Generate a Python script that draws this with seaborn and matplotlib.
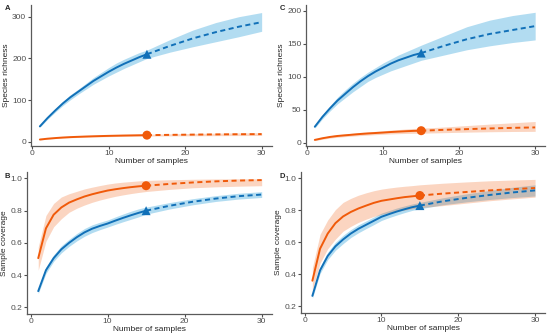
import numpy as np
import pandas as pd
import matplotlib
matplotlib.use("Agg")
import matplotlib.pyplot as plt
import seaborn as sns

# sample sizes: 1..15 observed (rarefaction), 15..30 extrapolated
samples = [1, 2, 3, 4, 5, 6, 7, 8, 9, 10, 11, 12, 13, 14, 15, 18, 21, 24, 27, 30]
ref_size = 15

# A: species richness, first site
a_blue = [37, 57, 75, 92, 107, 120, 133, 146, 157, 168, 178, 187, 195, 203, 210, 230, 248, 263, 276, 287]
a_blue_lo = [35, 54, 71, 87, 101, 114, 126, 138, 148, 158, 167, 176, 184, 192, 200, 215, 228, 240, 252, 265]
a_blue_hi = [39, 60, 79, 97, 113, 126, 140, 154, 166, 178, 189, 198, 206, 214, 220, 245, 268, 286, 300, 310]
a_orange = [5.5, 7.5, 9, 10.3, 11.3, 12, 12.7, 13.3, 13.8, 14.3, 14.7, 15.1, 15.4, 15.7, 16, 16.7, 17.3, 17.8, 18.2, 18.5]
a_orange_lo = [4.5, 6.5, 7.8, 9, 9.8, 10.5, 11.1, 11.6, 12, 12.4, 12.8, 13.1, 13.4, 13.6, 13.8, 14.2, 14.5, 14.8, 15, 15.2]
a_orange_hi = [6.5, 8.5, 10.2, 11.6, 12.8, 13.5, 14.3, 15, 15.6, 16.2, 16.6, 17.1, 17.4, 17.8, 18.2, 19.2, 20.1, 20.8, 21.4, 21.8]

# C: species richness, second site
c_blue = [24, 39, 52, 64, 74, 84, 93, 101, 108, 114, 120, 125, 129, 133, 136, 147, 157, 165, 171, 177]
c_blue_lo = [22, 36, 48, 59, 68, 77, 85, 93, 99, 104, 109, 113, 117, 121, 125, 133, 141, 147, 152, 156]
c_blue_hi = [26, 42, 56, 69, 80, 90, 99, 107, 114, 121, 127, 133, 138, 143, 148, 162, 176, 186, 193, 198]
c_orange = [4, 6.5, 8.5, 10, 11, 12, 13, 13.8, 14.5, 15.2, 16, 16.6, 17.2, 17.7, 18, 19.3, 20.4, 21.4, 22.3, 23]
c_orange_lo = [3, 5, 6.8, 8, 9, 9.8, 10.6, 11.3, 12, 12.6, 13.1, 13.5, 13.8, 14, 14.2, 15, 15.8, 16.4, 16.8, 17]
c_orange_hi = [5, 8, 10.2, 12, 13, 14.2, 15.4, 16.3, 17, 17.8, 18.9, 19.7, 20.6, 21.4, 21.8, 23.6, 25.8, 28, 30, 32]

# B: sample coverage, first site
b_blue = [0.30, 0.43, 0.505, 0.56, 0.60, 0.635, 0.665, 0.688, 0.705, 0.72, 0.738, 0.755, 0.771, 0.786, 0.80, 0.83, 0.855, 0.875, 0.89, 0.90]
b_blue_lo = [0.285, 0.41, 0.485, 0.538, 0.578, 0.612, 0.641, 0.664, 0.682, 0.698, 0.715, 0.731, 0.746, 0.761, 0.778, 0.81, 0.836, 0.857, 0.872, 0.882]
b_blue_hi = [0.315, 0.45, 0.525, 0.582, 0.622, 0.658, 0.689, 0.712, 0.728, 0.742, 0.761, 0.779, 0.796, 0.811, 0.822, 0.85, 0.874, 0.893, 0.908, 0.918]
b_orange = [0.505, 0.69, 0.775, 0.82, 0.85, 0.87, 0.888, 0.902, 0.914, 0.925, 0.933, 0.94, 0.946, 0.951, 0.955, 0.966, 0.975, 0.982, 0.987, 0.99]
b_orange_lo = [0.43, 0.61, 0.70, 0.75, 0.79, 0.815, 0.835, 0.852, 0.866, 0.878, 0.889, 0.898, 0.906, 0.913, 0.919, 0.932, 0.942, 0.948, 0.952, 0.955]
b_orange_hi = [0.575, 0.77, 0.845, 0.885, 0.905, 0.92, 0.935, 0.946, 0.956, 0.965, 0.972, 0.977, 0.981, 0.985, 0.988, 0.992, 0.995, 0.997, 0.998, 0.998]

# D: sample coverage, second site
d_blue = [0.265, 0.425, 0.515, 0.575, 0.618, 0.655, 0.685, 0.71, 0.735, 0.76, 0.777, 0.793, 0.807, 0.82, 0.83, 0.857, 0.878, 0.896, 0.912, 0.925]
d_blue_lo = [0.25, 0.405, 0.492, 0.55, 0.592, 0.63, 0.66, 0.686, 0.711, 0.737, 0.755, 0.771, 0.786, 0.8, 0.81, 0.835, 0.853, 0.868, 0.88, 0.89]
d_blue_hi = [0.28, 0.445, 0.538, 0.6, 0.644, 0.68, 0.71, 0.734, 0.759, 0.783, 0.799, 0.815, 0.828, 0.84, 0.85, 0.879, 0.903, 0.924, 0.944, 0.96]
d_orange = [0.36, 0.56, 0.655, 0.72, 0.762, 0.79, 0.812, 0.83, 0.847, 0.86, 0.868, 0.876, 0.883, 0.888, 0.893, 0.905, 0.915, 0.925, 0.933, 0.94]
d_orange_lo = [0.30, 0.47, 0.56, 0.62, 0.67, 0.70, 0.725, 0.745, 0.762, 0.775, 0.785, 0.794, 0.802, 0.81, 0.817, 0.83, 0.845, 0.86, 0.872, 0.883]
d_orange_hi = [0.44, 0.65, 0.74, 0.805, 0.85, 0.875, 0.895, 0.91, 0.923, 0.933, 0.94, 0.946, 0.951, 0.955, 0.96, 0.97, 0.978, 0.985, 0.99, 0.994]

BLUE = "#1170b8"
ORANGE = "#f05a0a"
BLUE_FILL = "#3fa9dd"

sns.set_theme(style="ticks")
plt.rcParams["font.family"] = ["Liberation Sans", "DejaVu Sans"]


def build_frame(blue, orange):
    rows = []
    for name, vals in (("blue", blue), ("orange", orange)):
        for x, y in zip(samples, vals):
            if x <= ref_size:
                rows.append((x, y, name, "Rarefaction"))
            if x >= ref_size:
                rows.append((x, y, name, "Extrapolation"))
    return pd.DataFrame(rows, columns=["samples", "value", "site", "method"])


def draw_panel(ax, blue, blue_lo, blue_hi, orange, orange_lo, orange_hi,
               ylim, yticks, yticklabels, ylabel, xlim):
    ax.fill_between(samples, blue_lo, blue_hi, color=BLUE_FILL, alpha=0.4, lw=0)
    ax.fill_between(samples, orange_lo, orange_hi, color=ORANGE, alpha=0.25, lw=0)
    df = build_frame(blue, orange)
    sns.lineplot(data=df, x="samples", y="value", hue="site", style="method",
                 palette={"blue": BLUE, "orange": ORANGE},
                 dashes={"Rarefaction": "", "Extrapolation": (2.6, 1.8)},
                 linewidth=1.4, legend=False, ax=ax, estimator=None,
                 units="method")
    pts = df[(df["samples"] == ref_size) & (df["method"] == "Rarefaction")]
    sns.scatterplot(data=pts, x="samples", y="value", hue="site", style="site",
                    palette={"blue": BLUE, "orange": ORANGE},
                    markers={"blue": "^", "orange": "o"}, s=42, linewidth=0,
                    legend=False, ax=ax, zorder=5)
    ax.set_xlim(*xlim)
    ax.set_ylim(*ylim)
    ax.set_xticks([0, 10, 20, 30])
    ax.set_yticks(yticks)
    ax.set_yticklabels(yticklabels)
    ax.set_xlabel("Number of samples", fontsize=6, labelpad=0.5)
    ax.set_ylabel(ylabel, fontsize=6, labelpad=1.5)
    ax.tick_params(axis="both", labelsize=6, colors="#4d4d4d", length=2,
                   width=0.8, pad=1.2)
    for side in ("left", "bottom"):
        ax.spines[side].set_color("#5a5a5a")
        ax.spines[side].set_linewidth(0.9)
    sns.despine(ax=ax)


fig = plt.figure(figsize=(5.5, 3.36), dpi=100)
ax_a = fig.add_axes([0.0558, 0.5655, 0.438, 0.4195])
ax_c = fig.add_axes([0.5558, 0.566, 0.4352, 0.419])
ax_b = fig.add_axes([0.0485, 0.0664, 0.4455, 0.4216])
ax_d = fig.add_axes([0.547, 0.0685, 0.444, 0.4195])

draw_panel(ax_a, a_blue, a_blue_lo, a_blue_hi, a_orange, a_orange_lo, a_orange_hi,
           (-10, 328), [0, 100, 200, 300], ["0", "100", "200", "300"],
           "Species richness", (-0.2, 31.3))
draw_panel(ax_c, c_blue, c_blue_lo, c_blue_hi, c_orange, c_orange_lo, c_orange_hi,
           (-5, 209), [0, 50, 100, 150, 200], ["0", "50", "100", "150", "200"],
           "Species richness", (-0.2, 31.3))
draw_panel(ax_b, b_blue, b_blue_lo, b_blue_hi, b_orange, b_orange_lo, b_orange_hi,
           (0.16, 1.04), [0.2, 0.4, 0.6, 0.8, 1.0], ["0.2", "0.4", "0.6", "0.8", "1.0"],
           "Sample coverage", (-0.5, 31.3))
draw_panel(ax_d, d_blue, d_blue_lo, d_blue_hi, d_orange, d_orange_lo, d_orange_hi,
           (0.158, 1.04), [0.2, 0.4, 0.6, 0.8, 1.0], ["0.2", "0.4", "0.6", "0.8", "1.0"],
           "Sample coverage", (-0.5, 31.3))

for label, (fx, fy) in zip("ACBD", [(0.008, 0.976), (0.508, 0.976),
                                     (0.008, 0.476), (0.508, 0.476)]):
    fig.text(fx, fy, label, fontsize=5.5, fontweight="bold", va="center")

fig.savefig("out.png", dpi=100)
